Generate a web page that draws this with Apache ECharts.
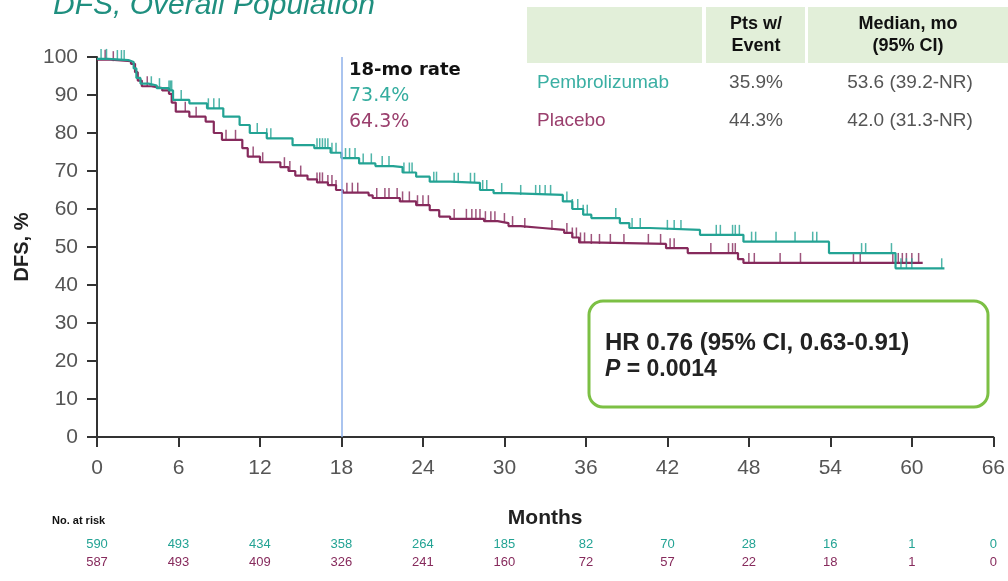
<!DOCTYPE html>
<html>
<head>
<meta charset="utf-8">
<script src="https://cdn.jsdelivr.net/npm/echarts@6/dist/echarts.min.js"></script>
<style>
html,body{margin:0;padding:0;background:#fff;}
#c{width:1008px;height:581px;}
</style>
</head>
<body>
<div id="c"></div>
<script>
// ---- data ----
var monthTicks = [0, 6, 12, 18, 24, 30, 36, 42, 48, 54, 60, 66];
var atRiskPembro = [590, 493, 434, 358, 264, 185, 82, 70, 28, 16, 1, 0];
var atRiskPlacebo = [587, 493, 409, 326, 241, 160, 72, 57, 22, 18, 1, 0];

var pembroCurve = [[0,99.5],[0.8,99.2],[2.3,98.7],[2.7,97],[2.9,94.5],[3.2,93],[3.8,92.5],[4.4,91.8],[5.3,91.2],[5.6,88.7],[6.8,87.8],[8.1,86.5],[9.3,84.3],[10.5,82.1],[11.25,80],[12.5,78.6],[14.4,76.8],[16.0,76],[17.2,74.8],[18,73.4],[19.3,72],[20.5,71.3],[21.8,71],[22.5,69.6],[23.5,68.5],[24.5,67.2],[26,66.9],[28.2,65],[29.2,64.2],[30.3,63.7],[34.3,62],[35,60],[35.8,58.5],[36.4,57.6],[38.5,56.3],[39.2,55],[40.7,54.5],[44.4,53.2],[47.6,51.4],[53.9,48.4],[58.8,44.4],[62.4,44.4]];

var placeboCurve = [[0,99.3],[1.0,98.9],[2.5,98.2],[2.8,96],[3.0,93.8],[3.3,92.3],[4.0,91.8],[4.8,91.2],[5.3,90.3],[5.5,88],[5.8,85.6],[6.8,84.3],[8.0,83],[8.6,80],[9.2,78.2],[10.7,76],[11.1,73.8],[12.0,72.3],[13.5,71],[14.1,70],[14.6,68.8],[15.5,67.8],[16.2,67],[17.0,66.3],[17.6,65],[18.1,64.3],[20.0,63.6],[20.3,62.9],[22.3,62],[23.5,61],[24.5,59.7],[25.2,58],[26.0,57.4],[28.5,56.8],[29.5,56.3],[30.3,55.5],[31.2,55],[32.8,54.5],[34.4,53.7],[35.0,52.5],[35.5,51.2],[36.2,50.8],[41.9,49.7],[43.5,48.4],[47.2,46.8],[47.6,45.8],[60.8,45.8]];

var pembroCensor = [[0.3,99.5],[0.7,99.5],[1.5,99.2],[1.8,99.2],[2.0,99.2],[4.0,92.3],[4.6,91.8],[5.3,91.2],[5.4,91.2],[5.5,91.2],[6.2,88.7],[8.2,86.5],[8.6,86.5],[9.0,86.5],[11.8,80],[12.5,78.6],[12.8,78.6],[16.2,76],[16.4,76],[16.6,76],[16.8,76],[17.0,76],[17.3,74.8],[17.6,74.8],[18.3,73.4],[18.6,73.4],[19.0,73.4],[19.6,72],[20.2,72],[21.0,71.3],[21.5,71.3],[22.6,69.6],[23.0,69.6],[23.2,69.6],[24.8,67.2],[25.0,67.2],[26.3,66.9],[26.6,66.9],[27.5,66.9],[27.8,66.9],[28.4,65],[28.7,65],[29.8,64.2],[31.2,63.7],[32.3,63.7],[32.6,63.7],[33.0,63.7],[33.4,63.7],[34.6,62],[35.0,60],[35.4,60],[35.8,58.5],[36.1,58.5],[38.2,57.6],[39.4,55],[40.0,55],[42.0,54.5],[42.5,54.5],[43.0,54.5],[45.6,53.2],[45.9,53.2],[46.8,53.2],[47.0,53.2],[47.3,53.2],[48.2,51.4],[48.5,51.4],[50.0,51.4],[51.4,51.4],[52.7,51.4],[53.0,51.4],[56.3,48.4],[56.6,48.4],[58.5,48.4],[59.2,44.4],[59.6,44.4],[60.0,44.4],[62.2,44.4]];

var placeboCensor = [[0.6,99.3],[1.2,98.9],[3.7,92.3],[6.5,85.6],[7.3,84.3],[9.5,78.2],[10.2,78.2],[11.5,73.8],[12.2,72.3],[13.8,71],[14.2,70],[15.0,68.8],[16.2,67],[16.4,67],[16.6,67],[17.0,66.3],[17.3,66.3],[17.6,65],[18.4,64.3],[18.8,64.3],[19.2,64.3],[20.6,62.9],[21.2,62.9],[21.5,62.9],[22.1,62.9],[22.5,62],[23.0,62],[23.6,61],[24.0,61],[24.4,61],[26.3,57.4],[27.2,57.4],[27.6,57.4],[27.9,57.4],[28.2,57.4],[28.6,56.8],[29.0,56.8],[29.3,56.8],[30.0,56.3],[30.6,55.5],[31.5,55],[33.5,54.5],[34.6,53.7],[35.0,52.5],[35.3,52.5],[35.6,51.2],[35.9,51.2],[36.4,50.8],[37.0,50.8],[37.8,50.8],[38.8,50.8],[40.6,50.8],[41.5,50.8],[42.2,49.7],[42.5,49.7],[45.2,48.4],[46.5,48.4],[46.8,48.4],[47.0,48.4],[48.0,45.8],[48.4,45.8],[50.3,45.8],[51.8,45.8],[55.7,45.8],[56.2,45.8],[58.6,45.8],[59.0,45.8],[59.3,45.8],[59.6,45.8],[60.0,45.8],[60.5,45.8]];

var rate18 = {pembro: '73.4%', placebo: '64.3%'};
var tableRows = [
  {name: 'Pembrolizumab', event: '35.9%', median: '53.6 (39.2-NR)'},
  {name: 'Placebo', event: '44.3%', median: '42.0 (31.3-NR)'}
];

// ---- style ----
var TEAL = '#23a394';
var MAROON = '#862a5c';
var NARROW = '"Liberation Sans Narrow", "Liberation Sans", Arial, sans-serif';
var SANS = '"Liberation Sans", Arial, sans-serif';

var chart = echarts.init(document.getElementById('c'), null, {renderer: 'canvas'});

function atRiskAxis(values, color, offset) {
  return {
    type: 'value', min: 0, max: 66, interval: 6, position: 'bottom', offset: offset,
    axisLine: {show: false}, axisTick: {show: false}, splitLine: {show: false},
    axisLabel: {
      color: color, fontFamily: NARROW, fontSize: 13, margin: 0,
      showMinLabel: true, showMaxLabel: true,
      formatter: function (v) { var i = monthTicks.indexOf(v); return i >= 0 ? String(values[i]) : ''; }
    }
  };
}

var option = {
  animation: false,
  grid: {left: 97, right: 13, top: 57, bottom: 144, containLabel: false},
  xAxis: [{
    type: 'value', min: 0, max: 66, interval: 6,
    name: 'Months', nameLocation: 'middle', nameGap: 71,
    nameTextStyle: {fontFamily: SANS, fontWeight: 'bold', fontSize: 21, color: '#222'},
    axisLine: {lineStyle: {color: '#333', width: 2}},
    axisTick: {length: 10, lineStyle: {color: '#333', width: 2}},
    splitLine: {show: false},
    axisLabel: {color: '#555', fontFamily: NARROW, fontSize: 21, margin: 21, showMaxLabel: true}
  },
  atRiskAxis(atRiskPembro, TEAL, 101),
  atRiskAxis(atRiskPlacebo, MAROON, 119)
  ],
  yAxis: {
    type: 'value', min: 0, max: 100, interval: 10,
    name: 'DFS, %', nameLocation: 'middle', nameGap: 62, nameRotate: 90,
    nameTextStyle: {fontFamily: SANS, fontWeight: 'bold', fontSize: 20, color: '#222'},
    axisLine: {show: true, lineStyle: {color: '#333', width: 2}},
    axisTick: {show: true, length: 10, lineStyle: {color: '#333', width: 2}},
    splitLine: {show: false},
    axisLabel: {color: '#555', fontFamily: NARROW, fontSize: 21, margin: 19}
  },
  series: [
    {
      name: 'Placebo', type: 'line', step: 'end', data: placeboCurve, showSymbol: false,
      lineStyle: {color: MAROON, width: 2.2}, z: 3
    },
    {
      name: 'Placebo censor', type: 'scatter', data: placeboCensor, symbol: 'rect',
      symbolSize: [1.5, 10], symbolOffset: [0, -5], itemStyle: {color: MAROON}, z: 3
    },
    {
      name: 'Pembrolizumab', type: 'line', step: 'end', data: pembroCurve, showSymbol: false,
      lineStyle: {color: TEAL, width: 2.2}, z: 4,
      markLine: {
        silent: true, symbol: 'none', label: {show: false},
        lineStyle: {color: '#8eb0ea', width: 1.5, type: 'solid'},
        data: [[{coord: [18, 0]}, {coord: [18, 100]}]]
      }
    },
    {
      name: 'Pembrolizumab censor', type: 'scatter', data: pembroCensor, symbol: 'rect',
      symbolSize: [1.5, 10], symbolOffset: [0, -5], itemStyle: {color: TEAL}, z: 4
    }
  ],
  graphic: [
    // title
    {type: 'text', left: 53, top: -9, style: {text: 'DFS, Overall Population', fill: '#1f8f7f', font: 'italic 30px ' + SANS}},
    // table header
    {type: 'rect', shape: {x: 527, y: 7, width: 175, height: 56}, style: {fill: '#e2efd9'}},
    {type: 'rect', shape: {x: 706, y: 7, width: 99, height: 56}, style: {fill: '#e2efd9'}},
    {type: 'rect', shape: {x: 808, y: 7, width: 200, height: 56}, style: {fill: '#e2efd9'}},
    {type: 'text', x: 756, y: 35, style: {text: 'Pts w/\nEvent', fill: '#111', font: 'bold 18px ' + NARROW, align: 'center', verticalAlign: 'middle', lineHeight: 22}},
    {type: 'text', x: 908, y: 35, style: {text: 'Median, mo\n(95% CI)', fill: '#111', font: 'bold 18px ' + NARROW, align: 'center', verticalAlign: 'middle', lineHeight: 22}},
    {type: 'text', x: 537, y: 83, style: {text: tableRows[0].name, fill: '#3aafa3', font: '19px ' + SANS, verticalAlign: 'middle'}},
    {type: 'text', x: 756, y: 83, style: {text: tableRows[0].event, fill: '#555', font: '19px ' + SANS, align: 'center', verticalAlign: 'middle'}},
    {type: 'text', x: 910, y: 83, style: {text: tableRows[0].median, fill: '#555', font: '19px ' + SANS, align: 'center', verticalAlign: 'middle'}},
    {type: 'text', x: 537, y: 121, style: {text: tableRows[1].name, fill: '#9a3f6d', font: '19px ' + SANS, verticalAlign: 'middle'}},
    {type: 'text', x: 756, y: 121, style: {text: tableRows[1].event, fill: '#555', font: '19px ' + SANS, align: 'center', verticalAlign: 'middle'}},
    {type: 'text', x: 910, y: 121, style: {text: tableRows[1].median, fill: '#555', font: '19px ' + SANS, align: 'center', verticalAlign: 'middle'}},
    // 18-mo rate
    {type: 'text', x: 349, y: 70, style: {text: '18-mo rate', fill: '#111', font: 'bold 18px "DejaVu Sans", sans-serif', verticalAlign: 'middle'}},
    {type: 'text', x: 349, y: 96, style: {text: rate18.pembro, fill: '#35ad9f', font: '19px "DejaVu Sans", sans-serif', verticalAlign: 'middle'}},
    {type: 'text', x: 349, y: 122, style: {text: rate18.placebo, fill: '#9a3f6d', font: '19px "DejaVu Sans", sans-serif', verticalAlign: 'middle'}},
    // HR box
    {type: 'rect', shape: {x: 589, y: 301, width: 399, height: 106, r: 14}, style: {fill: '#fff', stroke: '#7cc044', lineWidth: 3}, z: 10},
    {type: 'text', x: 605, y: 343, z: 11, style: {text: 'HR 0.76 (95% CI, 0.63-0.91)', fill: '#222', font: 'bold 24px ' + SANS, verticalAlign: 'middle'}},
    {type: 'text', x: 605, y: 370, z: 11, style: {text: '{i|P} = 0.0014', fill: '#222', font: 'bold 23px ' + SANS, verticalAlign: 'middle', rich: {i: {fontStyle: 'italic', fontWeight: 'bold', fontSize: 23, fontFamily: SANS, fill: '#222'}}}},
    // no. at risk
    {type: 'text', x: 52, y: 521, style: {text: 'No. at risk', fill: '#111', font: 'bold 11px ' + NARROW, verticalAlign: 'middle'}}
  ]
};
chart.setOption(option);
</script>
</body>
</html>
